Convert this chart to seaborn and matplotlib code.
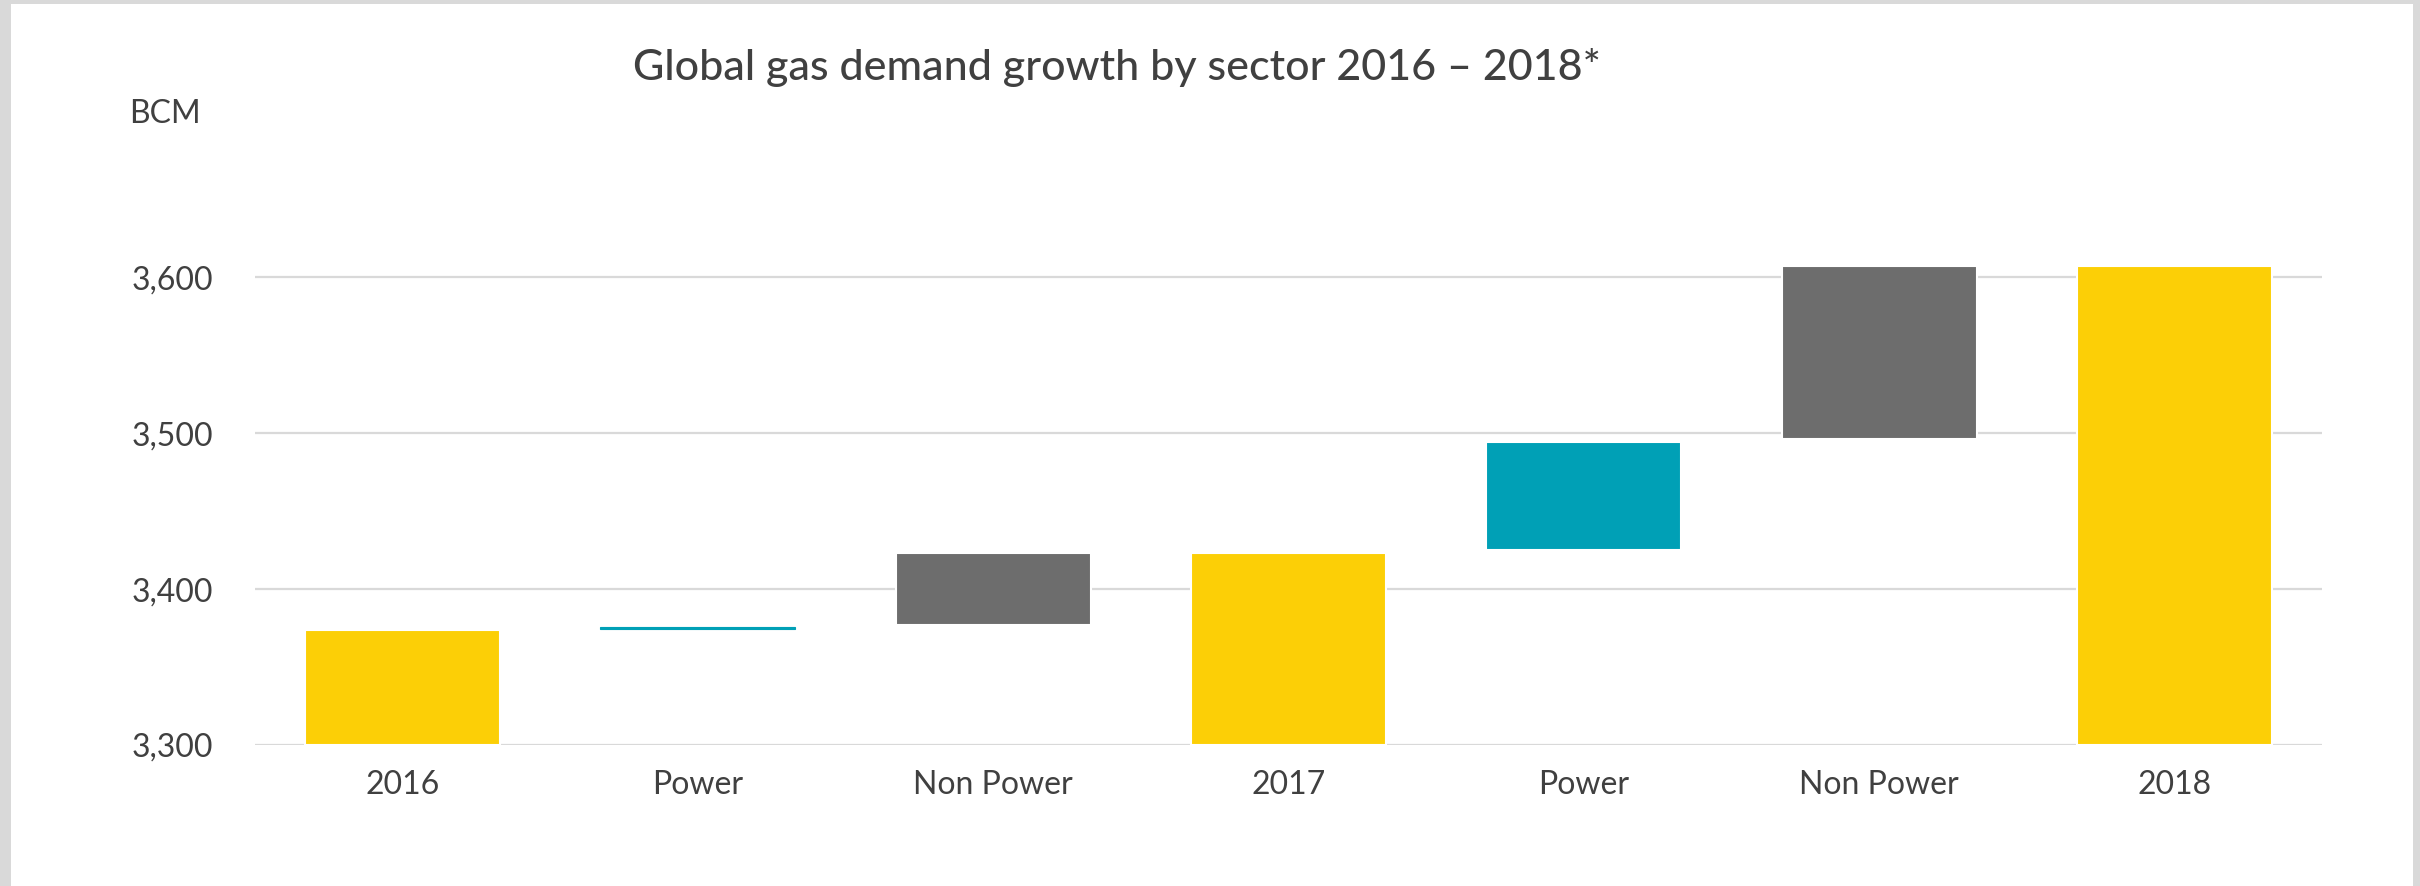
import numpy as np
import pandas as pd
import seaborn as sns
import matplotlib.pyplot as plt
from matplotlib.patches import Rectangle

# waterfall steps (BCM)
labels = ["2016", "Power", "Non Power", "2017", "Power", "Non Power", "2018"]
starts = [3300, 3374.2, 3377, 3300, 3425, 3496, 3300]
ends = [3373.5, 3375.8, 3423.5, 3423.5, 3494.5, 3607, 3607]
kinds = ["total", "power", "nonpower", "total", "power", "nonpower", "total"]
yticks = [3300, 3400, 3500, 3600]

colors = {"total": "#FCCF06", "power": "#00A0B6", "nonpower": "#6D6D6D"}
text_col = "#404040"

df = pd.DataFrame({
    "step": np.arange(len(labels)),
    "start": starts,
    "height": np.array(ends) - np.array(starts),
    "kind": kinds,
})

sns.set_theme(style="white")
plt.rcParams["font.family"] = ["Lato", "DejaVu Sans"]

fig = plt.figure(figsize=(24.2, 8.86), dpi=100)
fig.patch.set_facecolor("#D9D9D9")
fig.patches.append(Rectangle((11 / 2420, 0), (2413 - 11) / 2420, 1 - 4 / 886,
                             transform=fig.transFigure, facecolor="white",
                             edgecolor="none", zorder=-10))

ax = fig.add_axes([255 / 2420, 1 - 745 / 886, (2322 - 255) / 2420, (745 - 152.7) / 886])
ax.set_facecolor("none")

sns.barplot(data=df, x="step", y="height", bottom=df["start"], width=0.66,
            errorbar=None, color="#FCCF06", edgecolor="white", linewidth=1.5,
            zorder=3, ax=ax)
for p, k, h in zip(ax.patches, df["kind"], df["height"]):
    p.set_facecolor(colors[k])
    if h < 5:
        # tiny step: keep it visible as a thin line
        p.set_edgecolor(colors[k])
        p.set_linewidth(0.8)

ax.set_ylim(3300, 3680)
ax.set_yticks(yticks, [f"{v:,}" for v in yticks])
ax.set_xticks(df["step"], labels)
ax.set_xlabel("")
ax.set_ylabel("")
for v in yticks:
    ax.axhline(v, color="#D9D9D9", lw=1.6, zorder=1)
for s in ax.spines.values():
    s.set_visible(False)
ax.tick_params(axis="y", length=0, pad=30, labelsize=23, labelcolor=text_col)
ax.tick_params(axis="x", length=0, pad=18, labelsize=23, labelcolor=text_col)

fig.text(1117 / 2420, 1 - 80 / 886, "Global gas demand growth by sector 2016 \u2013 2018*",
         ha="center", va="baseline", fontsize=31, fontweight="medium", color=text_col)
fig.text(129 / 2420, 1 - 123 / 886, "BCM", ha="left", va="baseline",
         fontsize=23, color=text_col)

fig.savefig("out.png", dpi=100, facecolor=fig.get_facecolor())
